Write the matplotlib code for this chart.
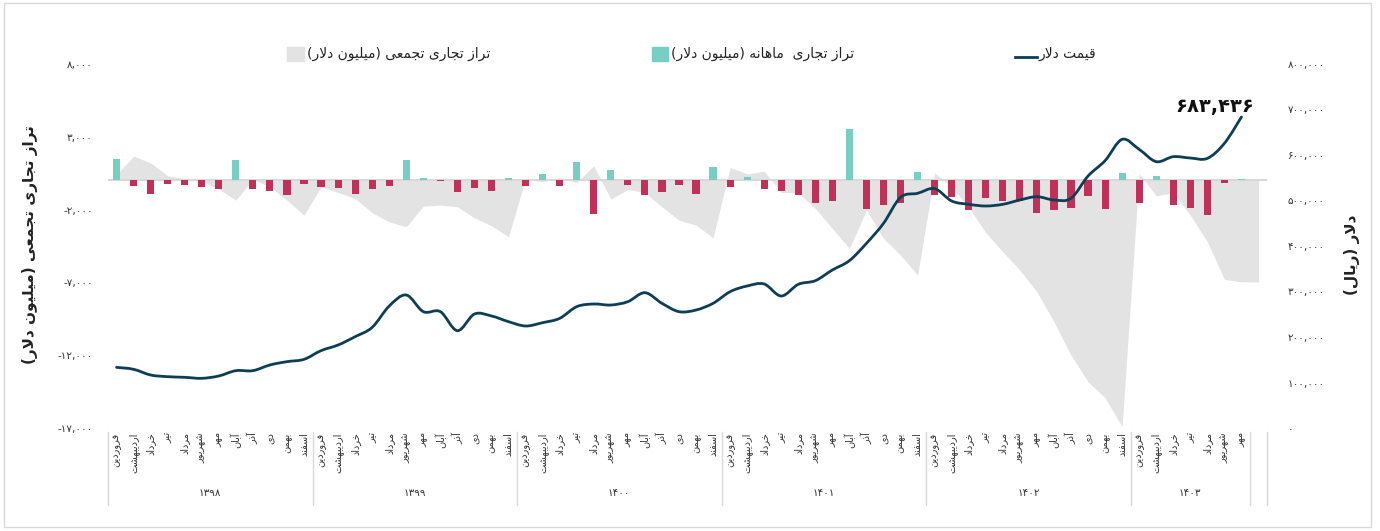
import numpy as np
import matplotlib
matplotlib.use('Agg')
import matplotlib.pyplot as plt
from matplotlib.path import Path
from matplotlib.patches import PathPatch, Rectangle
from matplotlib.lines import Line2D
from matplotlib.ticker import FuncFormatter

# data
months = ['فروردین', 'اردیبهشت', 'خرداد', 'تیر', 'مرداد', 'شهریور',
          'مهر', 'آبان', 'آذر', 'دی', 'بهمن', 'اسفند']
years = ['۱۳۹۸', '۱۳۹۹', '۱۴۰۰', '۱۴۰۱', '۱۴۰۲', '۱۴۰۳']
months_in_year = [12, 12, 12, 12, 12, 7]

# monthly trade balance (million dollars)
monthly = [1442, -389, -961, -252, -343, -481, -618, 1373, -618, -755, -1030, -252,
           -481, -549, -961, -618, -389, 1373, 137, -30, -824, -549, -755, 137,
           -389, 412, -389, 1236, -2335, 687, -343, -1030, -824, -343, -961, 893,
           -481, 206, -595, -755, -1030, -1567, -1430, 3502, -1968, -1717, -1567, 549,
           -1030, -1167, -2037, -1213, -1442, -1442, -2243, -2060, -1900, -1076, -1968, 481,
           -1556, 275, -1694, -1900, -2403, -183, 92]

# cumulative trade balance (million dollars), one extra month
cumulative = [400, 1671, 1213, 320, 137, -46, -595, -1350, 69, -435, -1350, -2380,
              -435, -824, -1236, -2220, -2838, -3182, -1763, -1694, -1808, -2564, -3113, -3868,
              137, -92, 206, -137, 1007, -1282, -618, -824, -1808, -2724, -3067, -3937,
              893, 458, 641, -824, -850, -1923, -3296, -4670, -2037, -3983, -5127, -6501,
              530, -450, -1850, -3580, -4900, -6158, -7645, -9705, -11994, -13825, -14924, -16916,
              481, -1053, -824, -2380, -4212, -6790, -6959, -6970]

# dollar price (rial)
price = [133300, 129000, 116500, 112800, 111400, 109200, 114300, 126000, 126000, 138500, 145800, 150900,
         170000, 182400, 200700, 221200, 268100, 292300, 255700, 255700, 213900, 250500, 246200, 233700,
         224200, 231500, 241000, 266700, 272500, 270300, 277600, 297400, 274000, 255700, 259300, 274000,
         299600, 312100, 316500, 290100, 315800, 323800, 347300, 367800, 405900, 449800, 507000, 515800,
         526000, 498900, 491600, 487900, 491600, 501100, 508400, 501100, 504800, 553800, 587500, 634400,
         612400, 585400, 596300, 593400, 592600, 625600, 683436]

left_ticks = [-17000, -12000, -7000, -2000, 3000, 8000]
right_ticks = list(range(0, 800001, 100000))

# persian text helpers (matplotlib has no arabic shaping)
FORMS = {
    'ا': ('\uFE8D', '\uFE8E', None, None),
    'آ': ('\uFE81', '\uFE82', None, None),
    'ب': ('\uFE8F', '\uFE90', '\uFE91', '\uFE92'),
    'ت': ('\uFE95', '\uFE96', '\uFE97', '\uFE98'),
    'ج': ('\uFE9D', '\uFE9E', '\uFE9F', '\uFEA0'),
    'خ': ('\uFEA5', '\uFEA6', '\uFEA7', '\uFEA8'),
    'د': ('\uFEA9', '\uFEAA', None, None),
    'ذ': ('\uFEAB', '\uFEAC', None, None),
    'ر': ('\uFEAD', '\uFEAE', None, None),
    'ز': ('\uFEAF', '\uFEB0', None, None),
    'س': ('\uFEB1', '\uFEB2', '\uFEB3', '\uFEB4'),
    'ش': ('\uFEB5', '\uFEB6', '\uFEB7', '\uFEB8'),
    'ع': ('\uFEC9', '\uFECA', '\uFECB', '\uFECC'),
    'ف': ('\uFED1', '\uFED2', '\uFED3', '\uFED4'),
    'ق': ('\uFED5', '\uFED6', '\uFED7', '\uFED8'),
    'ل': ('\uFEDD', '\uFEDE', '\uFEDF', '\uFEE0'),
    'م': ('\uFEE1', '\uFEE2', '\uFEE3', '\uFEE4'),
    'ن': ('\uFEE5', '\uFEE6', '\uFEE7', '\uFEE8'),
    'ه': ('\uFEE9', '\uFEEA', '\uFEEB', '\uFEEC'),
    'و': ('\uFEED', '\uFEEE', None, None),
    'ی': ('\uFEEF', '\uFEF0', '\uFEF3', '\uFEF4'),
}
LAM_ALEF = {'ا': ('\uFEFB', '\uFEFC'), 'آ': ('\uFEF5', '\uFEF6')}


def joins_next(c):
    return c in FORMS and FORMS[c][2] is not None


def fa(text):
    out = []
    i = 0
    while i < len(text):
        c = text[i]
        if c not in FORMS:
            out.append(c)
            i += 1
            continue
        prev = text[i - 1] if i > 0 else ''
        cp = joins_next(prev)
        if c == 'ل' and i + 1 < len(text) and text[i + 1] in LAM_ALEF:
            out.append(LAM_ALEF[text[i + 1]][1 if cp else 0])
            i += 2
            continue
        nxt = text[i + 1] if i + 1 < len(text) else ''
        cn = joins_next(c) and nxt in FORMS
        iso, fin, ini, med = FORMS[c]
        if cp and cn:
            out.append(med)
        elif cp:
            out.append(fin)
        elif cn:
            out.append(ini)
        else:
            out.append(iso)
        i += 1
    vis = ''.join(out)[::-1]
    return vis.translate(str.maketrans('()', ')('))


def fa_num(v):
    return f'{int(v):,}'.translate(str.maketrans('0123456789', '۰۱۲۳۴۵۶۷۸۹'))


plt.rcParams['font.family'] = ['DejaVu Sans']

W, H = 1380, 531
fig = plt.figure(figsize=(W / 100, H / 100), dpi=100)
ax = fig.add_axes([108 / W, 1 - 428 / H, (1267 - 108) / W, (428 - 64) / H])
ax2 = ax.twinx()

x_month = np.arange(len(monthly))
x_cum = np.arange(len(cumulative))

# cumulative area
ax.fill_between(x_cum, cumulative, 0, color='#E3E3E3', linewidth=0, zorder=1)
ax.axhline(0, color='#D9D9D9', lw=1.5, zorder=2)

# monthly bars
bar_colors = ['#77CFC4' if v >= 0 else '#C03058' for v in monthly]
ax.bar(x_month, monthly, width=0.42, color=bar_colors, zorder=3)

ax.set_xlim(-0.5, 67.5)
ax.set_ylim(-17000, 8000)
ax2.set_ylim(0, 800000)

# smooth dollar line (catmull-rom as bezier segments)
pts = list(zip(x_month, price))
verts = [pts[0]]
codes = [Path.MOVETO]
for i in range(len(pts) - 1):
    p0 = pts[i - 1] if i > 0 else pts[i]
    p1 = pts[i]
    p2 = pts[i + 1]
    p3 = pts[i + 2] if i + 2 < len(pts) else pts[i + 1]
    c1 = (p1[0] + (p2[0] - p0[0]) / 6, p1[1] + (p2[1] - p0[1]) / 6)
    c2 = (p2[0] - (p3[0] - p1[0]) / 6, p2[1] - (p3[1] - p1[1]) / 6)
    verts += [c1, c2, p2]
    codes += [Path.CURVE4] * 3
ax2.add_patch(PathPatch(Path(verts, codes), facecolor='none', edgecolor='#0D3E56',
                        lw=2, capstyle='round', zorder=5))
ax2.annotate(fa_num(price[-1]), xy=(x_month[-1], price[-1]), xytext=(-27, 11),
             textcoords='offset pixels', ha='center', va='center',
             fontsize=14, fontweight='bold', color='#111111')

for a in (ax, ax2):
    for s in a.spines.values():
        s.set_visible(False)
ax.set_xticks([])
ax.set_yticks(left_ticks)
ax.yaxis.set_major_formatter(FuncFormatter(lambda v, p: fa_num(v) if v >= 0 else '-' + fa_num(-v)))
ax.tick_params(axis='y', length=0, pad=11, labelsize=7.5, labelcolor='#333333')
ax2.set_yticks(right_ticks)
ax2.yaxis.set_major_formatter(FuncFormatter(lambda v, p: fa_num(v)))
ax2.tick_params(axis='y', length=0, pad=15, labelsize=7.5, labelcolor='#333333')

# axis titles
fig.text(30 / W, 1 - 245 / H, fa('تراز تجاری تجمعی (میلیون دلار)'), rotation=90,
         ha='center', va='center', fontsize=11, fontweight='bold', color='#222222')
fig.text(1352 / W, 1 - 255 / H, fa('دلار (ریال)'), rotation=90,
         ha='center', va='center', fontsize=11, fontweight='bold', color='#222222')

# category labels
trans = ax.get_xaxis_transform()
for i in range(len(monthly)):
    ax.text(i, -0.012, fa(months[i % 12]), rotation=90, ha='center', va='top',
            fontsize=7, color='#333333', transform=trans, clip_on=False)
start = 0
bounds = [-0.5]
for y, n in zip(years, months_in_year):
    ax.text(start + (n - 1) / 2, -0.178, y, ha='center', va='center',
            fontsize=7.5, color='#333333', transform=trans, clip_on=False)
    start += n
    bounds.append(start - 0.5)
bounds.append(67.5)
for b in bounds:
    ax.add_line(Line2D([b, b], [-0.012, -0.212], transform=trans, color='#D9D9D9',
                       lw=1, clip_on=False))

# legend (right to left)
def fx(px):
    return px / W


def fy(py):
    return 1 - py / H


fig.patches.append(Rectangle((fx(287), fy(61)), 17 / W, 14 / H, color='#E3E3E3',
                             transform=fig.transFigure))
fig.text(fx(307), fy(54), fa('تراز تجاری تجمعی (میلیون دلار)'), ha='left', va='center',
         fontsize=10, color='#222222')
fig.patches.append(Rectangle((fx(652), fy(61)), 16 / W, 14 / H, color='#77CFC4',
                             transform=fig.transFigure))
fig.text(fx(671), fy(54), fa('تراز تجاری  ماهانه (میلیون دلار)'), ha='left', va='center',
         fontsize=10, color='#222222')
fig.lines.append(Line2D([fx(1015), fx(1037)], [fy(57), fy(57)], color='#0D3E56', lw=2,
                        transform=fig.transFigure))
fig.text(fx(1039), fy(54), fa('قیمت دلار'), ha='left', va='center',
         fontsize=10, color='#222222')

# outer frame
fig.patches.append(Rectangle((fx(4), fy(527)), 1367 / W, 524 / H, fill=False,
                             edgecolor='#D9D9D9', lw=1, transform=fig.transFigure))

fig.savefig('out.png', dpi=100)
